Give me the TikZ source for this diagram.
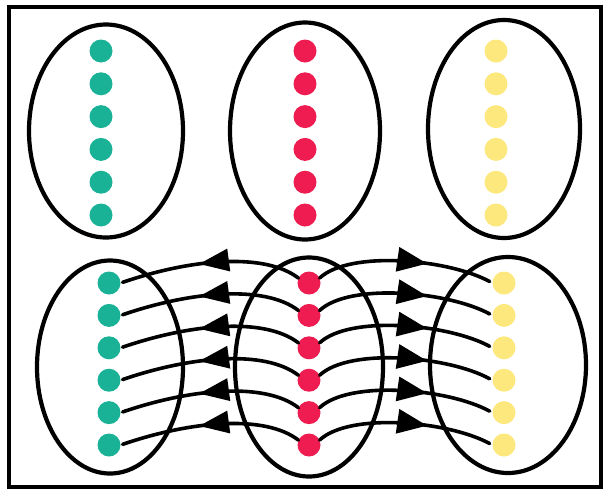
\documentclass[tikz,border=0pt]{standalone}
\usetikzlibrary{shapes.geometric,arrows.meta,decorations.markings}
\definecolor{dgreen}{RGB}{25,178,150}
\definecolor{dred}{RGB}{238,28,80}
\definecolor{dyellow}{RGB}{252,232,125}
\begin{document}
\begin{tikzpicture}[x=1pt,y=-1pt,
  ell/.style={draw, ellipse, line width=4.2pt, inner sep=0pt},
  dot/.style={circle, fill=#1, minimum size=23pt, inner sep=0pt},
  arrL/.style={line width=3.6pt, line cap=round, shorten >=2pt,
    decoration={markings, mark=at position 0.56 with {\arrow{Triangle[length=30pt,width=22pt]}}},
    postaction={decorate}},
  arrR/.style={line width=3.6pt, line cap=round, shorten >=3pt,
    decoration={markings, mark=at position 0.62 with {\arrow{Triangle[length=30pt,width=24pt]}}},
    postaction={decorate}}]
\useasboundingbox (0,0) rectangle (610,496);
\draw[line width=4.5pt] (9,7) rectangle (601,487);
% top ellipses
\node[ell, minimum width=154pt, minimum height=213pt] (TE1) at (106,131) {};
\node[ell, minimum width=150pt, minimum height=217pt] (TE2) at (305,131) {};
\node[ell, minimum width=152pt, minimum height=218pt] (TE3) at (504,129) {};
% bottom ellipses
\node[ell, minimum width=146pt, minimum height=213pt] (BE1) at (110,367) {};
\node[ell, minimum width=148pt, minimum height=219pt] (BE2) at (309,367) {};
\node[ell, minimum width=156pt, minimum height=216pt] (BE3) at (508,365) {};
% top dots
\foreach \i in {1,...,6}{
  \pgfmathsetmacro{\yy}{51+32.8*(\i-1)}
  \node[dot=dgreen] (tg\i) at (101,\yy) {};
  \node[dot=dred] (tr\i) at (305,\yy) {};
  \node[dot=dyellow] (ty\i) at (496,\yy) {};
}
% bottom dots
\foreach \i in {1,...,6}{
  \pgfmathsetmacro{\yy}{283+32.4*(\i-1)}
  \node[dot=dgreen] (g\i) at (109,\yy) {};
  \node[dot=dred] (r\i) at (309,\yy) {};
  \node[dot=dyellow] (y\i) at (504,\yy) {};
}
% connectors
\foreach \i in {1,...,6}{
  \draw[arrL] (r\i.155) .. controls +(-34,-26) and +(70,-24) .. (g\i.east);
  \draw[arrR] (r\i.25) .. controls +(30,-28) and +(-44,-24) .. (y\i.west);
}
\end{tikzpicture}
\end{document}
